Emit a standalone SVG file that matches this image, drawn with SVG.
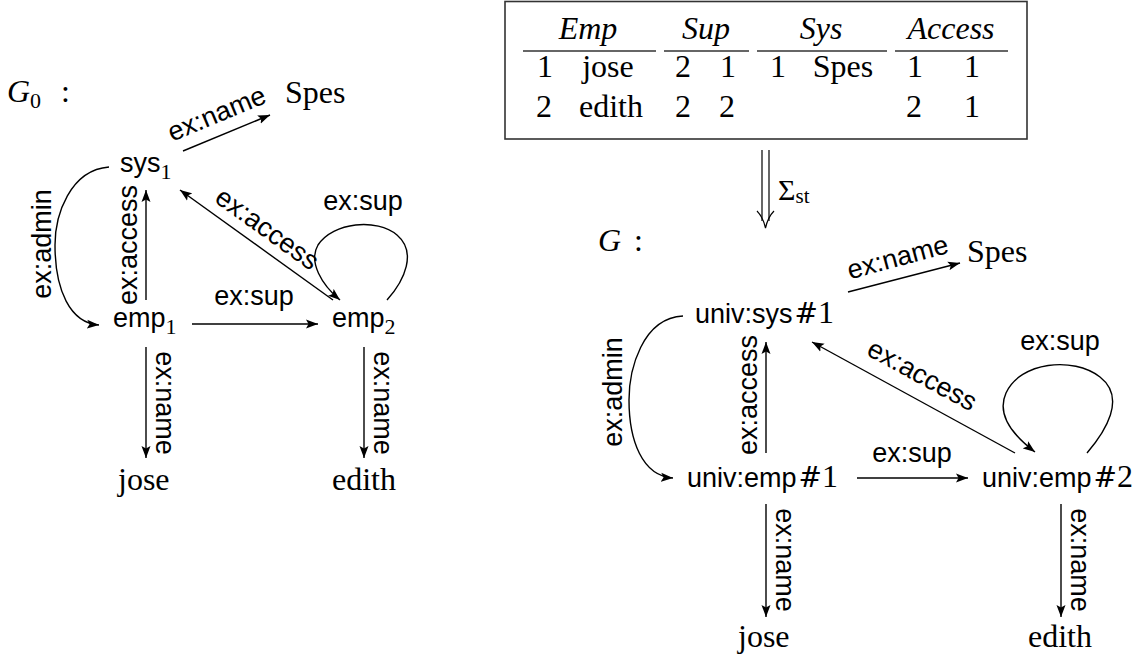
<svg xmlns="http://www.w3.org/2000/svg" width="1147" height="664" viewBox="0 0 1147 664">
<style>
  .sans { font-family: "Liberation Sans", Arial, sans-serif; font-size: 27px; fill: #000; }
  .rm { font-family: "Liberation Serif", "Times New Roman", serif; font-size: 32px; fill: #000; }
  .it { font-family: "Liberation Serif", "Times New Roman", serif; font-size: 32px; font-style: italic; fill: #000; }
  .sub { font-family: "Liberation Serif", "Times New Roman", serif; font-size: 22px; }
  .hash { font-family: "DejaVu Serif", "Liberation Serif", serif; font-size: 28px; }
  .mid { text-anchor: middle; }
  .edge { fill: none; stroke: #000; stroke-width: 1.4; }
  .arr { marker-end: url(#tip); }
  .rule { stroke: #333; stroke-width: 1.6; }
</style>
<defs>
  <marker id="tip" markerUnits="userSpaceOnUse" markerWidth="14" markerHeight="10" refX="12" refY="5" orient="auto">
    <path d="M0,0.5 L12,5 L0,9.5 L2.5,5 Z" fill="#000"/>
  </marker>
</defs>
<rect width="1147" height="664" fill="#fff"/>

<!-- Relational table -->
<g id="table">
  <rect x="505" y="1.5" width="522" height="137.5" fill="none" stroke="#333" stroke-width="1.6"/>
  <text class="it mid" x="588" y="39">Emp</text>
  <text class="it mid" x="706" y="39">Sup</text>
  <text class="it mid" x="821" y="39">Sys</text>
  <text class="it mid" x="951" y="39">Access</text>
  <line class="rule" x1="523" y1="51" x2="656" y2="51"/>
  <line class="rule" x1="664" y1="51" x2="749" y2="51"/>
  <line class="rule" x1="757" y1="51" x2="887" y2="51"/>
  <line class="rule" x1="895" y1="51" x2="1008" y2="51"/>
  <text class="rm mid" x="545" y="77">1</text>
  <text class="rm mid" x="608" y="77">jose</text>
  <text class="rm mid" x="683" y="77">2</text>
  <text class="rm mid" x="728" y="77">1</text>
  <text class="rm mid" x="778" y="77">1</text>
  <text class="rm mid" x="843" y="77">Spes</text>
  <text class="rm mid" x="915" y="77">1</text>
  <text class="rm mid" x="972" y="77">1</text>
  <text class="rm mid" x="544" y="117">2</text>
  <text class="rm mid" x="611" y="117">edith</text>
  <text class="rm mid" x="683" y="117">2</text>
  <text class="rm mid" x="727" y="117">2</text>
  <text class="rm mid" x="914" y="117">2</text>
  <text class="rm mid" x="972" y="117">1</text>
</g>

<!-- Sigma_st transformation arrow -->
<g id="transform">
  <line x1="762" y1="150" x2="762" y2="221" stroke="#000" stroke-width="1.2"/>
  <line x1="769" y1="150" x2="769" y2="221" stroke="#000" stroke-width="1.2"/>
  <path d="M757,211 Q763,217 765.5,228 Q768,217 774,211" fill="none" stroke="#000" stroke-width="1.2"/>
  <text x="778" y="200" class="rm" style="font-size:30px">Σ<tspan class="sub" style="font-size:21px" dy="3">st</tspan></text>
</g>

<!-- Titles -->
<g id="title-g0">
  <text x="7" y="102" class="it">G<tspan class="sub" style="font-style:normal" dy="6">0</tspan></text>
  <text x="61" y="102" class="rm">:</text>
</g>
<g id="title-g">
  <text x="598" y="251" class="it">G</text>
  <text x="634" y="251" class="rm">:</text>
</g>

<!-- Connectors -->
<g id="connectors">
  <!-- G0 -->
  <path class="edge arr" d="M183,151 L270,115"/>
  <path class="edge arr" d="M109,167 C70,170 55,215 55,245 C55,290 70,323 99,325"/>
  <path class="edge arr" d="M146,300 L146,190"/>
  <path class="edge arr" d="M333,300 L180,190"/>
  <path class="edge arr" d="M387,300 C405,280 417,252 397,235 C377,218 333,222 318,245 C308,262 322,285 340,300"/>
  <path class="edge arr" d="M192,324 L318,324"/>
  <path class="edge arr" d="M146,347 L146,458"/>
  <path class="edge arr" d="M364,347 L364,458"/>
  <!-- G -->
  <path class="edge arr" d="M848,292 L960,263"/>
  <path class="edge arr" d="M683,316 C642,318 629,370 629,400 C629,440 642,476 673,478"/>
  <path class="edge arr" d="M766,453 L766,342"/>
  <path class="edge arr" d="M1015,453 L812,342"/>
  <path class="edge arr" d="M1087,453 C1105,432 1127,398 1100,377 C1073,356 1020,362 1006,393 C996,415 1014,436 1035,452"/>
  <path class="edge arr" d="M857,478 L968,478"/>
  <path class="edge arr" d="M766,504 L766,617"/>
  <path class="edge arr" d="M1061,504 L1061,617"/>

  <!-- edge labels G0 -->
  <text class="sans mid" transform="translate(220,122) rotate(-22.5)">ex:name</text>
  <text class="sans mid" transform="translate(51,244) rotate(-90)">ex:admin</text>
  <text class="sans mid" transform="translate(137,245) rotate(-90)">ex:access</text>
  <text class="sans mid" transform="translate(262,236) rotate(35.7)">ex:access</text>
  <text class="sans mid" x="363" y="210">ex:sup</text>
  <text class="sans mid" x="254" y="305">ex:sup</text>
  <text class="sans mid" transform="translate(156,403) rotate(90)">ex:name</text>
  <text class="sans mid" transform="translate(374,403) rotate(90)">ex:name</text>

  <!-- edge labels G -->
  <text class="sans mid" transform="translate(900,266) rotate(-15)">ex:name</text>
  <text class="sans mid" transform="translate(622,392) rotate(-90)">ex:admin</text>
  <text class="sans mid" transform="translate(757,395) rotate(-90)">ex:access</text>
  <text class="sans mid" transform="translate(918,383) rotate(28.7)">ex:access</text>
  <text class="sans mid" x="1060" y="350">ex:sup</text>
  <text class="sans mid" x="912" y="462">ex:sup</text>
  <text class="sans mid" transform="translate(776,560) rotate(90)">ex:name</text>
  <text class="sans mid" transform="translate(1071,560) rotate(90)">ex:name</text>
</g>

<!-- G0 nodes -->
<g id="g0-sys1"><text x="120" y="172" class="sans">sys<tspan class="sub" dy="7">1</tspan></text></g>
<g id="g0-spes"><text x="285" y="103" class="rm">Spes</text></g>
<g id="g0-emp1"><text x="113" y="327" class="sans">emp<tspan class="sub" dy="7">1</tspan></text></g>
<g id="g0-emp2"><text x="332" y="327" class="sans">emp<tspan class="sub" dy="7">2</tspan></text></g>
<g id="g0-jose"><text x="118" y="490" class="rm">jose</text></g>
<g id="g0-edith"><text x="332" y="490" class="rm">edith</text></g>

<!-- G nodes -->
<g id="g-sys1"><text x="695" y="323" class="sans">univ:sys<tspan class="hash" dx="2">#</tspan><tspan class="rm">1</tspan></text></g>
<g id="g-spes"><text x="967" y="262" class="rm">Spes</text></g>
<g id="g-emp1"><text x="687" y="487" class="sans">univ:emp<tspan class="hash" dx="2">#</tspan><tspan class="rm">1</tspan></text></g>
<g id="g-emp2"><text x="982" y="487" class="sans">univ:emp<tspan class="hash" dx="2">#</tspan><tspan class="rm">2</tspan></text></g>
<g id="g-jose"><text x="738" y="647" class="rm">jose</text></g>
<g id="g-edith"><text x="1028" y="647" class="rm">edith</text></g>
</svg>
